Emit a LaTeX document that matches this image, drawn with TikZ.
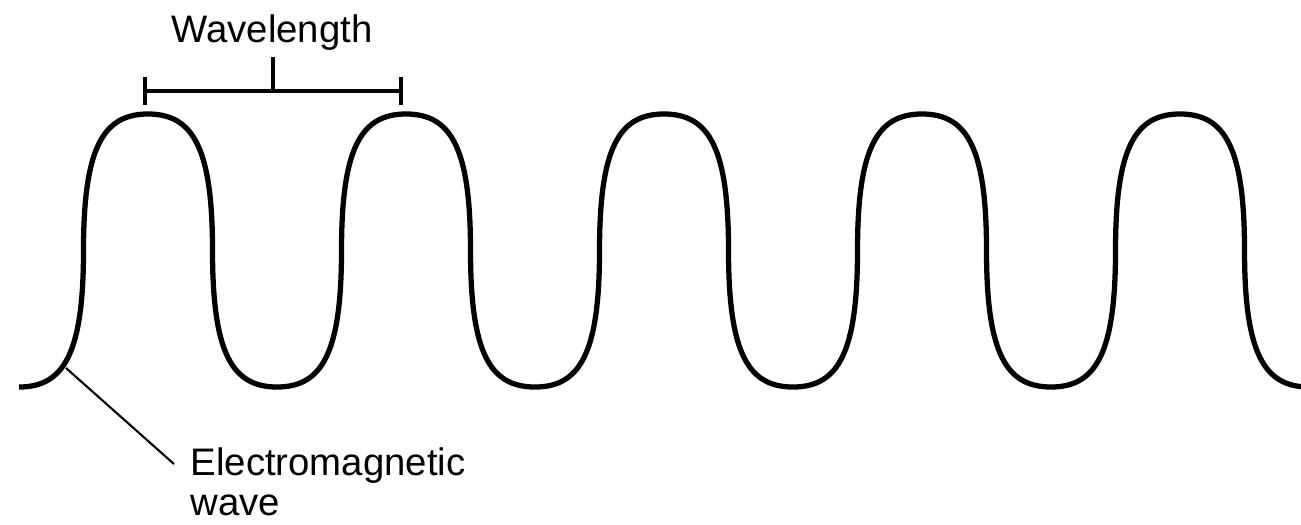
\documentclass[tikz,border=0pt]{standalone}
\usepackage{fontspec}
\setmainfont{Liberation Sans}
\tikzset{
	wave/.style={line width=1.5pt},
	bar/.style={line width=1.2pt},
	leader/.style={line width=0.6pt},
	lbl/.style={inner sep=0pt, font=\fontsize{10.9pt}{11.4pt}\selectfont}
}
\begin{document}
\begin{tikzpicture}[x=0.01cm, y=-0.01cm]
	\useasboundingbox (0,0) rectangle (1301,524);
	% Wave, one period per peak:
	\foreach \xp in {148,406,664,922,1180}{
		\draw[wave] ({\xp-129},387) .. controls ({\xp-83.85},387) and ({\xp-64.5},352.9) .. ({\xp-64.5},250.5) .. controls ({\xp-64.5},148.1) and ({\xp-45.15},114) .. (\xp,114) .. controls ({\xp+45.15},114) and ({\xp+64.5},148.1) .. ({\xp+64.5},250.5) .. controls ({\xp+64.5},352.9) and ({\xp+83.85},387) .. ({\xp+129},387);
	}
	% Wavelength bar and labels:
	\coordinate (barL) at (145,91);
	\coordinate (barR) at (401,91);
	\coordinate (barM) at (273,91);
	\draw[bar] (barL) -- (barR);
	\draw[bar] (barL) ++(0,-14) -- ++(0,28);
	\draw[bar] (barR) ++(0,-14) -- ++(0,28);
	\draw[bar] (barM) -- ++(0,-34);
	\node[lbl, anchor=base] (wavelabel) at (272,42){Wavelength};
	\coordinate (touch) at (66,368);
	\coordinate (tip) at (174,464);
	\draw[leader] (touch) -- (tip);
	\node[lbl, anchor=north west, align=left] (emlabel) at (190,447){Electromagnetic\\wave};
\end{tikzpicture}
\end{document}
